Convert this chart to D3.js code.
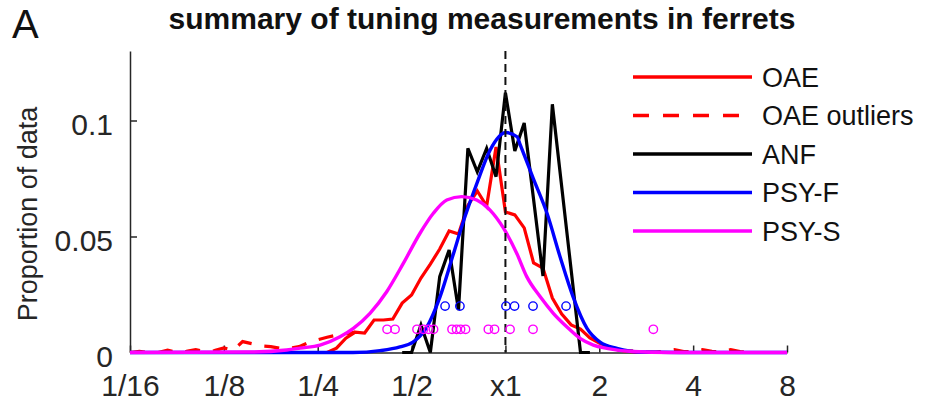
<!DOCTYPE html>
<html>
<head>
<meta charset="utf-8">
<script src="https://cdn.jsdelivr.net/npm/d3@7"></script>
<style>
  html, body { margin: 0; padding: 0; background: #fff; }
  svg { display: block; font-family: "Liberation Sans", Arial, sans-serif; }
</style>
</head>
<body>
<svg id="chart" width="930" height="405"></svg>
<script>
// ---------------- data (x values in octaves relative to CF: log2 ratio) ----------------
const xTickValues = [-4, -3, -2, -1, 0, 1, 2, 3];
const xTickLabels = ["1/16", "1/8", "1/4", "1/2", "x1", "2", "4", "8"];
const yTickValues = [0, 0.05, 0.1];
const yTickLabels = ["0", "0.05", "0.1"];

// OAE histogram (solid red)
const oaeOct = [-1.9,-1.8,-1.7,-1.6,-1.5,-1.4,-1.3,-1.2,-1.1,-1.0,-0.9,-0.8,-0.7,-0.6,-0.5,-0.4,-0.3,-0.2,-0.1,0,
                0.1,0.2,0.3,0.4,0.5,0.6,0.7,0.8,0.9,1.0,1.1,1.2,1.3,1.4];
const oaeVal = [0,0.0019,0.0062,0.0088,0.0084,0.014,0.014,0.0144,0.0213,0.0248,0.0321,0.0381,0.0446,0.0524,0.0511,0.0634,0.0696,0.0631,0.0886,0.0606,
                0.0593,0.0537,0.0386,0.0364,0.0235,0.0166,0.0119,0.0101,0.0063,0.0041,0.0024,0.0011,0.0006,0];

// OAE incl. outliers (dashed red) – visible tails only
const oaeOutOct = [-4.0,-3.9,-3.8,-3.7,-3.6,-3.5,-3.4,-3.3,-3.2,-3.1,-3.0,-2.9,-2.8,-2.7,-2.6,-2.5,-2.4,-2.3,-2.2,-2.1,-2.0,-1.9,-1.8,-1.7,-1.6,
                   1.2,1.3,1.4,1.5,1.6,1.7,1.8,1.9,2.0,2.1,2.2,2.3,2.4,2.5,2.6,2.7,2.8,2.9,3.0];
const oaeOutVal = [0,0.0005,0,0,0.001,0,0.0005,0.0012,0.0004,0.0008,0.002,0.001,0.0047,0.0038,0.0028,0.0025,0.0018,0.0018,0.0025,0.0042,0.0055,0.0066,0.0075,0.008,0.0088,
                   0.0011,0.0006,0.0008,0.0003,0.0002,0.0006,0.0012,0.0004,0.0003,0.0012,0.0005,0.0003,0.0012,0.0004,0,0,0,0,0];

// ANF histogram (black)
const anfOct = [-1.1,-1.0,-0.9,-0.8,-0.7,-0.6,-0.5,-0.4,-0.3,-0.2,-0.1,0,0.1,0.2,0.4,0.5,0.8,0.9];
const anfVal = [0,0,0.0119,0,0.0327,0.0442,0.0183,0.088,0.0779,0.088,0.0758,0.112,0.0869,0.0989,0.033,0.107,0,0];

// PSY-F fit (blue)
const psyFOct = [-4,-1.624,-1.336,-1.124,-0.985,-0.846,-0.697,-0.558,-0.452,-0.303,-0.164,0.006,0.124,0.156,0.294,0.443,0.582,0.720,0.869,1.008,1.189,1.434,1.860,3];
const psyFVal = [0,0,0.0008,0.0024,0.0045,0.0104,0.024,0.042,0.056,0.073,0.0872,0.0948,0.093,0.0897,0.0753,0.0600,0.0413,0.0241,0.0104,0.0045,0.0018,0.0002,0,0];

// PSY-S fit (magenta)
const psySOct = [-4,-2.721,-2.330,-2.188,-1.975,-1.762,-1.620,-1.443,-1.265,-1.088,-0.910,-0.768,-0.625,-0.465,-0.306,-0.164,-0.022,0.120,0.227,0.369,0.510,0.653,0.795,0.937,1.079,1.359,1.754,3];
const psySVal = [0,0.0002,0.0011,0.0019,0.0032,0.0068,0.0104,0.0169,0.0262,0.0384,0.0514,0.0600,0.0657,0.0672,0.0657,0.0614,0.0537,0.0428,0.0327,0.0241,0.0169,0.0111,0.0061,0.0032,0.0018,0.0004,0,0];

// individual psychophysical measurements (circles)
const psyFPoints = [-0.643,-0.485,0.006,0.097,0.294,0.646];
const psyFLevel = 0.02;
const psySPoints = [-1.261,-1.176,-0.942,-0.873,-0.819,-0.766,-0.569,-0.521,-0.478,-0.425,-0.182,-0.116,0.049,0.294,1.576];
const psySLevel = 0.01;

const legendLabels = ["OAE", "OAE outliers", "ANF", "PSY-F", "PSY-S"];
const legendColors = ["#ff0000", "#ff0000", "#000000", "#0000ff", "#ff00ff"];
const legendDashed = [false, true, false, false, false];

// ---------------- drawing ----------------
const svg = d3.select("#chart");
const axisColor = "#262626";
const plotLeft = 130, plotRight = 787, plotTop = 50.9, plotBottom = 352.5;

const x = d3.scaleLinear().domain([-4, 3]).range([plotLeft, plotRight]);
const y = d3.scaleLinear().domain([0, 0.13]).range([plotBottom, plotTop]);

// title and panel letter
svg.append("text").attr("x", 12).attr("y", 38).attr("font-size", 40).attr("fill", "#111").text("A");
svg.append("text").attr("x", 482).attr("y", 29).attr("text-anchor", "middle")
  .attr("font-size", 30).attr("font-weight", "bold").attr("fill", "#111")
  .text("summary of tuning measurements in ferrets");

// axes
const xAxis = d3.axisBottom(x).tickValues(xTickValues).tickSizeInner(-7).tickSizeOuter(0)
  .tickFormat((d, i) => xTickLabels[i]);
const gx = svg.append("g").attr("transform", `translate(0,${plotBottom})`).call(xAxis);
gx.select(".domain").attr("stroke", axisColor).attr("stroke-width", 1.5);
gx.selectAll(".tick line").attr("stroke", axisColor).attr("stroke-width", 1.5);
gx.selectAll(".tick text").attr("font-size", 30).attr("fill", axisColor)
  .attr("font-family", "Liberation Sans, Arial, sans-serif").attr("y", 22).attr("dy", "0.71em");

const yAxis = d3.axisLeft(y).tickValues(yTickValues).tickSizeInner(-7).tickSizeOuter(0)
  .tickFormat((d, i) => yTickLabels[i]);
const gy = svg.append("g").attr("transform", `translate(${plotLeft},0)`).call(yAxis);
gy.select(".domain").attr("stroke", axisColor).attr("stroke-width", 1.5);
gy.selectAll(".tick line").attr("stroke", axisColor).attr("stroke-width", 1.5);
gy.selectAll(".tick text").attr("font-size", 30).attr("fill", axisColor)
  .attr("font-family", "Liberation Sans, Arial, sans-serif").attr("x", -17).attr("dy", "0.45em");

svg.append("text").attr("transform", `translate(37,214) rotate(-90)`)
  .attr("text-anchor", "middle").attr("font-size", 27).attr("fill", axisColor)
  .text("Proportion of data");

// lines
const mk = (xs, vs) => xs.map((o, i) => ({ o, v: vs[i] }));
const histLine = d3.line().x(d => x(d.o)).y(d => y(d.v));
const fitLine = d3.line().x(d => x(d.o)).y(d => y(d.v)).curve(d3.curveMonotoneX);

const plot = svg.append("g").attr("fill", "none").attr("stroke-linejoin", "miter");

const outData = mk(oaeOutOct, oaeOutVal);
const outLeft = outData.filter(d => d.o <= -1.6);
const outRight = outData.filter(d => d.o >= 1.2);
[outLeft, outRight].forEach(seg => {
  plot.append("path").datum(seg).attr("d", histLine)
    .attr("stroke", "#ff0000").attr("stroke-width", 3.2).attr("stroke-dasharray", "15,13");
});
plot.append("path").datum(mk(oaeOct, oaeVal)).attr("d", histLine)
  .attr("stroke", "#ff0000").attr("stroke-width", 3.2);
plot.append("path").datum(mk(anfOct, anfVal)).attr("d", histLine)
  .attr("stroke", "#000").attr("stroke-width", 3.2);
plot.append("path").datum(mk(psyFOct, psyFVal)).attr("d", fitLine)
  .attr("stroke", "#0000ff").attr("stroke-width", 3.4);
plot.append("path").datum(mk(psySOct, psySVal)).attr("d", fitLine)
  .attr("stroke", "#ff00ff").attr("stroke-width", 3.4);

// CF reference line
svg.append("line").attr("x1", x(0)).attr("x2", x(0)).attr("y1", y(0.13)).attr("y2", y(0))
  .attr("stroke", "#111").attr("stroke-width", 2).attr("stroke-dasharray", "8,5");

// markers
svg.append("g").selectAll("circle").data(psyFPoints).join("circle")
  .attr("cx", d => x(d)).attr("cy", y(psyFLevel)).attr("r", 4.2)
  .attr("fill", "none").attr("stroke", "#0000ff").attr("stroke-width", 1.4);
svg.append("g").selectAll("circle").data(psySPoints).join("circle")
  .attr("cx", d => x(d)).attr("cy", y(psySLevel)).attr("r", 4.2)
  .attr("fill", "none").attr("stroke", "#ff00ff").attr("stroke-width", 1.4);

// legend
const lg = svg.append("g");
legendLabels.forEach((lab, i) => {
  const cy = 77 + i * 38.5;
  lg.append("line").attr("x1", 633).attr("x2", 752).attr("y1", cy).attr("y2", cy)
    .attr("stroke", legendColors[i]).attr("stroke-width", 3.5)
    .attr("stroke-dasharray", legendDashed[i] ? "16,14" : null);
  lg.append("text").attr("x", 762).attr("y", cy).attr("dy", "0.36em")
    .attr("font-size", 27).attr("fill", "#111").text(lab);
});
</script>
</body>
</html>
